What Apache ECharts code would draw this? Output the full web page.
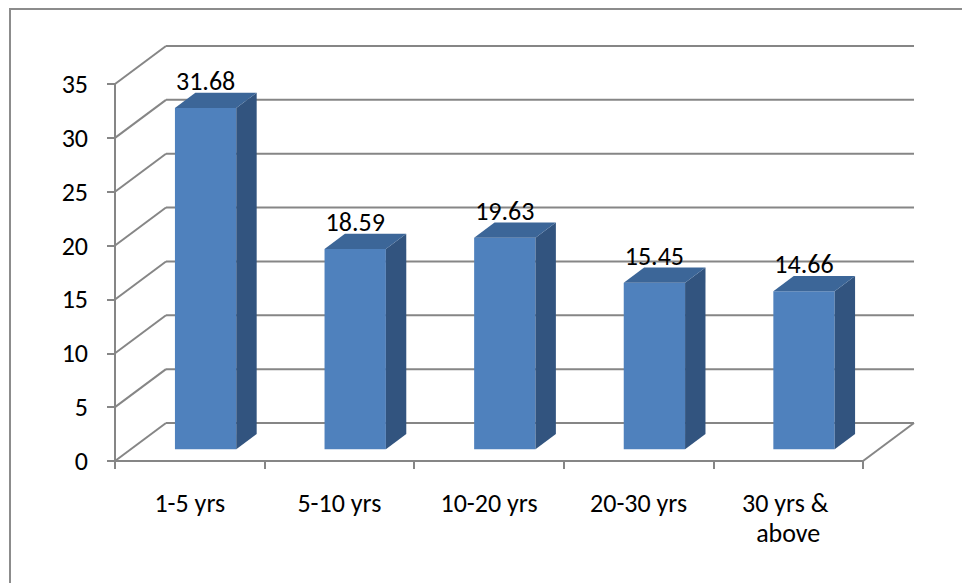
<!DOCTYPE html>
<html>
<head>
<meta charset="utf-8">
<script src="https://cdn.jsdelivr.net/npm/echarts@6/dist/echarts.min.js"></script>
<style>
html,body{margin:0;padding:0;background:#fff;}
#chart{width:962px;height:583px;}
</style>
</head>
<body>
<div id="chart"></div>
<script>
const categories = ['1-5 yrs', '5-10 yrs', '10-20 yrs', '20-30 yrs', '30 yrs & above'];
const values = [31.68, 18.59, 19.63, 15.45, 14.66];
const yTicks = [0, 5, 10, 15, 20, 25, 30, 35];

const FONT = "Carlito, Calibri, 'Liberation Sans', sans-serif";
const FS = 26;
const GRIDC = '#868686';
const DX = 51, DY = 38;          // depth of 3D box
const D0 = 0.31, D1 = 0.40;      // bar front offset & bar depth (fractions)
const BARW = 0.41;               // bar width fraction of category

const chart = echarts.init(document.getElementById('chart'), null, {renderer: 'svg'});

function wallItem(params, api) {
  const cs = params.coordSys;
  const v = api.value(1);
  const p = api.coord([0, v]);
  const y = p[1];
  const x0 = cs.x, x1 = cs.x + cs.width;
  const st = {stroke: GRIDC, lineWidth: 2};
  const children = [
    {type: 'line', shape: {x1: x0, y1: y, x2: x0 + DX, y2: y - DY}, style: st},
    {type: 'line', shape: {x1: x0 + DX, y1: y - DY, x2: x1 + DX, y2: y - DY}, style: st}
  ];
  if (v === 0) {
    children.push({type: 'line', shape: {x1: x1, y1: y, x2: x1 + DX, y2: y - DY}, style: st});
  }
  return {type: 'group', children: children};
}

function barItem(params, api) {
  const idx = api.value(0);
  const val = api.value(1);
  const c0 = api.coord([idx, 0]);
  const c1 = api.coord([idx, val]);
  const w = api.size([1, 0])[0] * BARW;
  const cx = c0[0] + D0 * DX;
  const bottom = c0[1] - D0 * DY;
  const top = c1[1] - D0 * DY;
  const fl = cx - w / 2, fr = cx + w / 2;
  const sx = D1 * DX, sy = D1 * DY;
  return {
    type: 'group',
    children: [
      {type: 'rect', shape: {x: fl, y: top, width: w, height: bottom - top},
        style: {fill: '#4F81BD'}},
      {type: 'polygon', shape: {points: [[fr, top], [fr + sx, top - sy], [fr + sx, bottom - sy], [fr, bottom]]},
        style: {fill: '#32547F'}},
      {type: 'polygon', shape: {points: [[fl, top], [fr, top], [fr + sx, top - sy], [fl + sx, top - sy]]},
        style: {fill: '#3C6698'}},
      {type: 'text', style: {text: val.toFixed(2), x: cx, y: top - sy - 12,
        align: 'center', verticalAlign: 'middle', fill: '#000',
        fontSize: FS, fontFamily: FONT}}
    ]
  };
}

chart.setOption({
  animation: false,
  backgroundColor: '#fff',
  graphic: [{
    type: 'rect', shape: {x: 10, y: 9, width: 1200, height: 1200},
    style: {fill: 'none', stroke: '#8c8c8c', lineWidth: 2}, z: -10
  }],
  grid: {left: 115, right: 99, top: 84, bottom: 122, containLabel: false},
  xAxis: {
    type: 'category',
    data: categories,
    boundaryGap: true,
    axisLine: {show: true, lineStyle: {color: GRIDC, width: 2}},
    axisTick: {show: true, length: 8, lineStyle: {color: GRIDC, width: 2}},
    axisLabel: {
      color: '#000', fontSize: FS, fontFamily: FONT, margin: 27, lineHeight: 30,
      interval: 0, width: 125, overflow: 'break'
    },
    splitLine: {show: false}
  },
  yAxis: {
    type: 'value', min: 0, max: 35, interval: 5,
    axisLine: {show: true, lineStyle: {color: GRIDC, width: 2}},
    axisTick: {show: true, length: 8, lineStyle: {color: GRIDC, width: 2}},
    axisLabel: {color: '#000', fontSize: FS, fontFamily: FONT, margin: 27},
    splitLine: {show: false}
  },
  series: [
    {
      type: 'custom', name: 'wall', z: 1, clip: false, silent: true,
      renderItem: wallItem,
      data: yTicks.map(v => [0, v])
    },
    {
      type: 'custom', name: 'bars', z: 3, clip: false,
      renderItem: barItem,
      data: values.map((v, i) => [i, v])
    }
  ]
});
</script>
</body>
</html>
